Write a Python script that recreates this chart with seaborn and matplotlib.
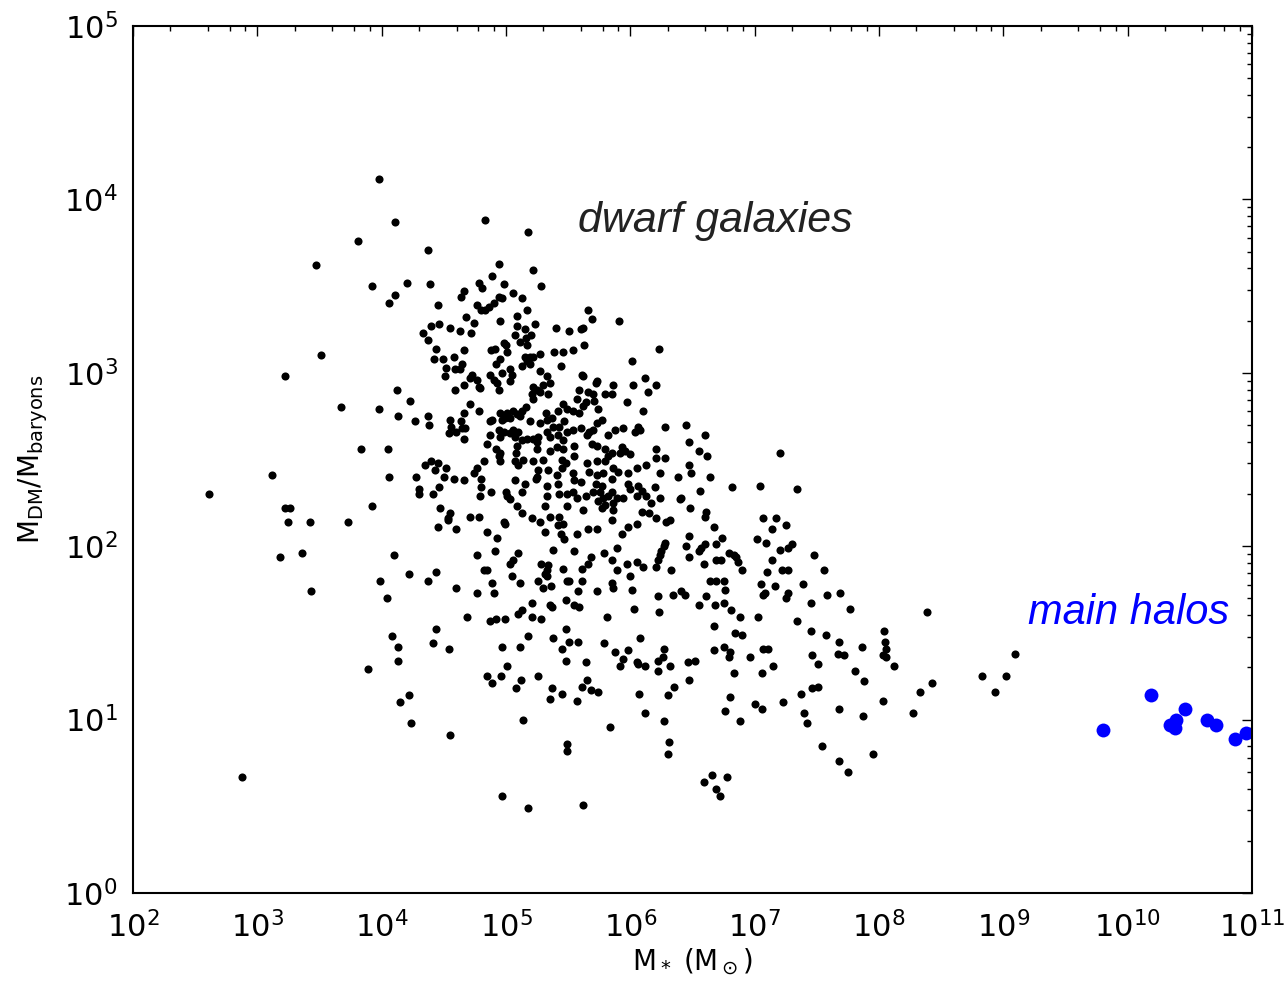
import numpy as np
import pandas as pd
import matplotlib
matplotlib.use("Agg")
import matplotlib.pyplot as plt
import seaborn as sns
from matplotlib.ticker import LogLocator, NullFormatter

# ---------------- data (log10 values) ----------------
dwarf_log_mstar = [
    3.98, 3.81, 3.47, 3.92, 4.06, 3.51, 3.22, 3.67, 3.98, 3.83,
    4.05, 3.12, 4.06, 2.61, 3.22, 3.26, 3.92, 3.25, 3.42, 3.73,
    3.18, 3.36, 3.99, 3.43, 4.04, 4.08, 3.89, 2.88,
    4.11, 4.83, 5.18, 4.37, 4.94, 5.22, 4.20, 4.39, 4.89, 4.78,
    4.81, 4.98, 5.28, 4.11, 4.45, 4.66, 4.64, 4.94, 4.97, 5.06,
    5.13, 4.77, 4.80, 4.83, 4.86, 4.90, 5.17, 5.09, 4.68, 4.74,
    4.95, 4.40, 4.46, 4.55, 4.63, 4.72, 4.33, 4.37, 5.09, 5.23,
    5.15, 5.20, 5.07, 5.16, 5.11, 5.40, 5.51, 4.44, 4.66, 4.88,
    4.91, 4.98, 5.00, 5.01, 5.17, 5.27, 5.39, 5.46, 5.15, 5.19,
    5.22, 4.42, 4.49, 4.58, 4.95,
    4.65, 4.63, 4.52, 4.59, 4.51, 4.73, 4.71, 4.77, 4.87, 4.90,
    4.93, 4.92, 4.97, 5.03, 5.05, 5.03, 5.13, 5.19, 5.17, 5.44,
    5.27, 5.33, 5.30, 5.35, 5.22, 5.25, 5.21, 5.27, 5.34, 5.22,
    4.66, 4.59, 4.78, 4.79, 4.94, 4.12, 4.23, 4.71, 4.78, 4.66,
    4.13, 4.27, 4.37, 4.38, 4.55, 4.56, 4.54, 4.64, 4.65, 4.67,
    4.60, 4.66, 4.95, 5.01, 5.06, 5.09, 5.13, 5.16, 5.11, 5.03,
    4.99, 4.87, 4.89, 4.97, 5.19, 5.27, 5.33, 5.37, 5.42, 5.46,
    5.49, 5.47, 5.43, 5.32, 4.87, 4.94, 4.95, 4.98, 5.03, 5.06,
    5.07, 5.10, 5.13, 5.17, 5.22, 5.25, 5.26, 5.33, 5.35, 5.38,
    5.42, 5.46, 5.49, 4.85, 4.92, 4.95, 4.94, 4.95, 5.08, 5.09,
    5.25, 5.35, 5.41, 5.46, 5.14, 5.10, 5.07, 5.22, 5.30, 5.45,
    5.48, 4.82, 4.77, 4.74, 4.80, 4.80, 4.79, 4.88, 4.35, 4.40,
    4.45, 4.43, 4.52, 4.50, 4.58, 4.66, 4.28, 4.30, 4.30, 4.41,
    4.46, 5.26, 5.25, 5.24, 5.34, 5.41, 5.45, 5.42, 5.33, 5.43,
    5.49, 5.07, 5.15, 5.00, 5.13, 5.01, 5.09, 5.03, 5.33, 5.31,
    5.49, 4.47, 4.55, 4.53, 4.71, 4.78, 5.13, 5.21, 5.35, 5.43,
    4.45, 4.60, 4.53, 4.98, 4.99, 5.27, 5.42, 5.46, 4.85, 4.93,
    4.91, 4.77, 5.31, 5.44, 5.47, 5.38, 4.10, 5.10, 5.03, 5.06,
    5.28, 5.34, 5.31, 5.33, 5.33, 5.46, 4.22, 4.37, 4.44, 4.60,
    4.82, 4.85, 4.89, 5.05, 5.11, 4.77, 4.90, 5.26, 5.30, 5.36,
    5.49, 5.48, 5.21, 5.35, 5.37, 4.69, 4.87, 4.92, 4.99, 5.10,
    5.13, 5.21, 5.28, 4.44, 4.13, 4.41, 4.54, 4.13, 5.48, 5.18,
    5.38, 5.51, 5.45, 4.97, 5.11, 5.48, 5.01, 4.85, 4.96, 4.89,
    5.12, 5.08, 5.26, 5.37, 5.35, 5.45, 4.22, 4.15, 4.24, 5.14,
    4.55, 5.49, 5.49, 4.97, 5.18,
    5.66, 5.69, 5.91, 5.60, 5.62, 5.54, 5.63, 6.23, 6.01, 5.61,
    5.62, 5.72, 5.73, 5.86, 6.02, 6.12, 6.21, 6.14, 5.59, 5.66,
    5.70, 5.57, 5.71, 5.64, 5.62, 5.80, 5.85, 5.97, 6.10, 5.74,
    5.54, 5.59, 5.77,
    5.54, 5.60, 5.67, 5.73, 5.65, 5.70, 5.82, 5.88, 5.94, 6.06,
    6.08, 6.04, 6.28, 6.45, 6.60, 6.47, 5.55, 5.69, 5.73, 5.80,
    5.93, 5.96, 5.92, 6.00, 6.21, 6.21, 6.28, 6.55, 6.62, 5.55,
    5.65, 5.73, 5.80, 5.82, 5.85, 6.13, 6.05, 5.86, 5.90, 5.98,
    6.47, 6.49, 6.38, 6.24, 6.64, 6.82, 6.56, 5.54, 5.55, 5.60,
    5.67, 5.73, 5.78, 5.72, 5.85, 5.77, 5.98, 6.00, 6.06, 6.09,
    6.20, 5.54, 5.57, 5.64, 5.70, 5.76, 5.78, 5.82, 5.85, 5.89,
    5.94, 5.74, 5.80, 5.86, 5.77, 5.86, 6.05, 6.13, 6.17, 6.24,
    6.40, 6.41, 5.62, 6.09, 6.15, 6.21, 6.29, 6.32, 6.48, 6.61,
    6.60, 5.85, 6.05, 5.98, 5.93, 5.66, 5.73, 5.57, 6.67, 6.47,
    6.74, 5.89, 5.79, 5.68, 5.55, 6.28, 6.27, 6.25, 6.24, 6.45,
    6.55, 6.57, 6.60, 6.69, 6.47, 6.59, 6.69, 6.73, 6.79, 6.83,
    6.85, 6.87, 6.90, 5.85, 5.97, 6.05, 6.10, 6.21, 6.22, 5.89,
    6.00, 6.33, 5.66, 5.61, 5.51, 5.61, 5.85, 5.86, 6.01, 5.73,
    5.58, 6.64, 6.69, 6.75, 6.76, 6.22, 6.34, 6.41, 6.44, 6.61,
    6.55, 6.68, 6.75, 6.81, 6.88, 5.55, 5.59, 6.03, 6.23, 5.81,
    6.67, 6.84, 6.90, 5.58, 5.79, 6.08, 5.88, 5.98, 5.94, 5.92,
    6.05, 6.06, 6.12, 6.27, 6.26, 6.22, 6.22, 6.32, 6.46, 6.52,
    6.47, 6.67, 6.75, 6.80, 6.79, 6.96, 6.83, 5.64, 5.65, 5.61,
    5.68, 5.74, 5.57, 6.35, 6.30, 6.07, 6.12, 6.27, 5.84, 6.80,
    6.76, 6.88, 6.31, 6.30, 6.66, 6.78, 6.59, 6.69, 6.72, 5.62,
    7.20, 7.04, 7.34, 7.07, 7.17, 7.14, 7.25, 7.02, 7.09, 7.20,
    7.27, 7.30, 7.48, 7.14, 7.10, 7.22, 7.27, 7.56, 7.05, 7.16,
    7.08, 7.07, 7.27, 7.25, 7.39, 7.58, 7.69, 7.45, 7.77, 8.39,
    7.03, 7.34, 7.45, 7.57, 7.68, 7.86, 8.04, 8.05, 8.06, 8.03,
    8.06, 8.12, 7.07, 7.11, 7.15, 7.06, 7.46, 7.51, 7.67, 7.72,
    7.81, 7.88, 8.83, 8.93, 8.43, 8.33, 8.27, 8.03, 7.87, 7.68,
    7.00, 7.06, 7.23, 7.37, 7.46, 7.51, 7.40, 7.42, 7.54, 7.68,
    7.75, 7.95, 9.02, 9.09,
]

dwarf_log_ratio = [
    4.12, 3.76, 3.62, 3.50, 3.40, 3.10, 2.98, 2.80, 2.79, 2.56,
    2.56, 2.41, 2.40, 2.30, 2.22, 2.22, 2.23, 2.14, 2.14, 2.14,
    1.94, 1.96, 1.80, 1.74, 1.70, 1.48, 1.29, 0.67,
    3.87, 3.88, 3.81, 3.71, 3.63, 3.59, 3.52, 3.51, 3.56, 3.52,
    3.49, 3.51, 3.50, 3.45, 3.39, 3.47, 3.44, 3.44, 3.43, 3.46,
    3.43, 3.39, 3.36, 3.36, 3.38, 3.40, 3.36, 3.33, 3.32, 3.29,
    3.30, 3.27, 3.28, 3.26, 3.24, 3.23, 3.23, 3.19, 3.27, 3.28,
    3.25, 3.22, 3.22, 3.20, 3.18, 3.26, 3.24, 3.14, 3.13, 3.13,
    3.14, 3.17, 3.16, 3.12, 3.16, 3.11, 3.12, 3.12, 3.09, 3.09,
    3.09, 3.08, 3.08, 3.09, 3.08,
    3.05, 3.02, 3.03, 3.02, 2.98, 2.99, 2.97, 2.96, 2.99, 2.96,
    2.94, 3.05, 3.00, 3.02, 2.99, 2.95, 3.04, 3.05, 3.07, 3.04,
    3.01, 2.98, 2.93, 2.94, 2.92, 2.90, 2.88, 2.89, 2.88, 2.85,
    2.93, 2.90, 2.92, 2.91, 2.90, 2.90, 2.84, 2.82, 2.78, 2.77,
    2.75, 2.72, 2.75, 2.70, 2.73, 2.69, 2.65, 2.72, 2.68, 2.68,
    2.66, 2.62, 2.77, 2.77, 2.78, 2.76, 2.78, 2.80, 2.75, 2.74,
    2.74, 2.72, 2.73, 2.73, 2.72, 2.71, 2.73, 2.74, 2.78, 2.82,
    2.79, 2.72, 2.69, 2.77, 2.64, 2.67, 2.63, 2.66, 2.65, 2.67,
    2.63, 2.66, 2.61, 2.62, 2.62, 2.60, 2.63, 2.66, 2.63, 2.69,
    2.64, 2.61, 2.66, 2.59, 2.56, 2.54, 2.52, 2.49, 2.54, 2.58,
    2.56, 2.55, 2.57, 2.56, 2.50, 2.47, 2.49, 2.49, 2.50, 2.50,
    2.48, 2.49, 2.45, 2.42, 2.39, 2.34, 2.29, 2.31, 2.47, 2.49,
    2.48, 2.44, 2.45, 2.40, 2.39, 2.38, 2.40, 2.33, 2.30, 2.30,
    2.34, 2.44, 2.40, 2.39, 2.44, 2.41, 2.45, 2.36, 2.35, 2.30,
    2.30, 2.38, 2.36, 2.31, 2.31, 2.29, 2.23, 2.27, 2.29, 2.23,
    2.23, 2.22, 2.19, 2.16, 2.17, 2.17, 2.19, 2.16, 2.17, 2.17,
    2.11, 2.10, 2.15, 2.14, 2.13, 2.14, 2.12, 2.13, 2.08, 2.05,
    1.97, 1.95, 2.08, 2.07, 2.04, 1.98, 1.95, 1.96, 1.90, 1.92,
    1.90, 1.89, 1.84, 1.86, 1.83, 1.87, 1.84, 1.80, 1.85, 1.76,
    1.86, 1.86, 1.79, 1.83, 1.79, 1.73, 1.73, 1.80, 1.76, 1.77,
    1.80, 1.69, 1.67, 1.66, 1.65, 1.59, 1.57, 1.58, 1.58, 1.61,
    1.63, 1.59, 1.58, 1.52, 1.42, 1.44, 1.41, 1.34, 1.52, 1.48,
    1.47, 1.45, 1.41, 1.42, 1.42, 1.34, 1.31, 1.25, 1.25, 1.21,
    1.23, 1.18, 1.25, 1.18, 1.12, 1.15, 1.14, 1.10, 0.98, 1.00,
    0.91, 0.86, 0.82, 0.56, 0.49,
    3.36, 3.31, 3.30, 3.25, 3.26, 3.13, 3.16, 3.14, 3.07, 2.99,
    2.98, 2.94, 2.95, 2.93, 2.93, 2.97, 2.93, 2.89, 2.90, 2.89,
    2.88, 2.85, 2.84, 2.83, 2.81, 2.88, 2.88, 2.83, 2.78, 2.79,
    2.78, 2.77, 2.73,
    2.67, 2.68, 2.66, 2.71, 2.64, 2.67, 2.64, 2.67, 2.68, 2.69,
    2.67, 2.66, 2.69, 2.70, 2.64, 2.60, 2.58, 2.59, 2.58, 2.56,
    2.57, 2.55, 2.54, 2.53, 2.56, 2.51, 2.51, 2.55, 2.52, 2.52,
    2.48, 2.49, 2.49, 2.52, 2.54, 2.47, 2.45, 2.45, 2.43, 2.42,
    2.47, 2.42, 2.40, 2.42, 2.40, 2.34, 2.32, 2.42, 2.38, 2.37,
    2.43, 2.41, 2.42, 2.36, 2.39, 2.35, 2.36, 2.33, 2.35, 2.32,
    2.34, 2.31, 2.28, 2.29, 2.31, 2.31, 2.28, 2.29, 2.31, 2.28,
    2.28, 2.26, 2.24, 2.25, 2.22, 2.21, 2.29, 2.29, 2.25, 2.28,
    2.27, 2.28, 2.21, 2.20, 2.19, 2.16, 2.14, 2.15, 2.22, 2.20,
    2.17, 2.15, 2.13, 2.11, 2.07, 2.10, 2.10, 2.07, 2.11, 2.06,
    2.05, 1.99, 1.96, 1.94, 1.97, 2.02, 2.00, 1.97, 1.95, 2.00,
    1.97, 1.99, 2.01, 2.01, 1.94, 1.90, 1.92, 1.92, 1.96, 1.95,
    1.94, 1.91, 1.86, 1.92, 1.90, 1.91, 1.88, 1.88, 1.92, 1.86,
    1.83, 1.86, 1.90, 1.87, 1.80, 1.80, 1.79, 1.76, 1.75, 1.74,
    1.74, 1.80, 1.80, 1.80, 1.75, 1.71, 1.72, 1.74, 1.72, 1.71,
    1.66, 1.66, 1.67, 1.63, 1.59, 1.66, 1.65, 1.64, 1.62, 1.59,
    1.54, 1.50, 1.49, 1.45, 1.44, 1.47, 1.39, 1.40, 1.35, 1.31,
    1.33, 1.32, 1.31, 1.41, 1.36, 1.34, 1.28, 1.31, 1.33, 1.34,
    1.23, 1.40, 1.42, 1.39, 1.36, 1.36, 1.27, 1.33, 1.23, 1.19,
    1.17, 1.16, 1.11, 1.19, 1.14, 1.15, 1.04, 0.99, 0.96, 1.13,
    1.05, 0.99, 0.87, 0.80, 0.68, 0.67, 0.64, 0.60, 0.56, 0.51,
    2.54, 2.35, 2.33, 2.16, 2.16, 2.10, 2.12, 2.04, 2.02, 1.98,
    1.99, 2.01, 1.95, 1.92, 1.85, 1.86, 1.86, 1.86, 1.78, 1.77,
    1.73, 1.72, 1.73, 1.70, 1.78, 1.72, 1.73, 1.67, 1.64, 1.62,
    1.59, 1.57, 1.51, 1.49, 1.45, 1.42, 1.51, 1.45, 1.41, 1.37,
    1.36, 1.31, 1.41, 1.41, 1.31, 1.27, 1.37, 1.32, 1.38, 1.37,
    1.28, 1.22, 1.25, 1.16, 1.21, 1.16, 1.04, 1.11, 1.02, 1.06,
    1.09, 1.06, 1.10, 1.15, 1.18, 1.19, 1.04, 0.98, 0.85, 0.76,
    0.70, 0.80, 1.25, 1.38,
]

halo_log_mstar = [9.80, 10.19, 10.46, 10.34, 10.39, 10.38, 10.64, 10.71, 10.86, 10.95]
halo_log_ratio = [0.94, 1.14, 1.06, 0.97, 1.00, 0.95, 1.00, 0.97, 0.89, 0.92]

x_label = r"M$_*$ (M$_\odot$)"
y_label = r"M$_{\rm DM}$/M$_{\rm baryons}$"
dwarf_text = "dwarf galaxies"
halo_text = "main halos"

# ---------------- plotting ----------------
sns.set_style("white")
plt.rcParams["font.family"] = ["DejaVu Sans"]
plt.rcParams["mathtext.fontset"] = "dejavusans"
plt.rcParams["text.color"] = "black"
plt.rcParams["axes.labelcolor"] = "black"
plt.rcParams["xtick.color"] = "black"
plt.rcParams["ytick.color"] = "black"

dwarf = pd.DataFrame({"mstar": 10 ** np.array(dwarf_log_mstar),
                      "ratio": 10 ** np.array(dwarf_log_ratio)})
halos = pd.DataFrame({"mstar": 10 ** np.array(halo_log_mstar),
                      "ratio": 10 ** np.array(halo_log_ratio)})

fig = plt.figure(figsize=(12.85, 9.85), dpi=100)
ax = fig.add_axes([0.1035, 0.0934, 0.8708, 0.8802])

sns.scatterplot(data=dwarf, x="mstar", y="ratio", ax=ax, color="black",
                s=34, linewidth=0, legend=False)
sns.scatterplot(data=halos, x="mstar", y="ratio", ax=ax, color="blue",
                s=100, linewidth=0, legend=False)

ax.set_xscale("log")
ax.set_yscale("log")
ax.set_xlim(1e2, 1e11)
ax.set_ylim(1e0, 1e5)

ax.xaxis.set_major_locator(LogLocator(base=10, numticks=20))
ax.xaxis.set_minor_locator(LogLocator(base=10, subs=[2, 4, 6, 8], numticks=100))
ax.yaxis.set_major_locator(LogLocator(base=10, numticks=20))
ax.yaxis.set_minor_locator(LogLocator(base=10, subs=np.arange(2, 10), numticks=100))
ax.xaxis.set_minor_formatter(NullFormatter())
ax.yaxis.set_minor_formatter(NullFormatter())

ax.tick_params(which="both", direction="in", top=True, right=True,
               color="black", width=1.0, labelcolor="black")
ax.tick_params(which="major", length=7.2, labelsize=22)
ax.tick_params(which="minor", length=3.6)
ax.tick_params(axis="x", which="major", pad=13)
ax.tick_params(axis="y", which="major", pad=11)

for sp in ax.spines.values():
    sp.set_linewidth(1.5)
    sp.set_color("black")

ax.set_xlabel(x_label, fontsize=20, labelpad=2, color="black")
ax.set_ylabel(y_label, fontsize=20, labelpad=10, color="black")

ax.text(10 ** 5.58, 10 ** 3.81, dwarf_text, fontsize=31, style="italic",
        family=["Liberation Sans", "DejaVu Sans"], color="#222222",
        ha="left", va="baseline")
ax.text(10 ** 9.20, 10 ** 1.552, halo_text, fontsize=30, style="italic",
        family=["Liberation Sans", "DejaVu Sans"], color="blue",
        ha="left", va="baseline")

fig.savefig("out.png", dpi=100)
